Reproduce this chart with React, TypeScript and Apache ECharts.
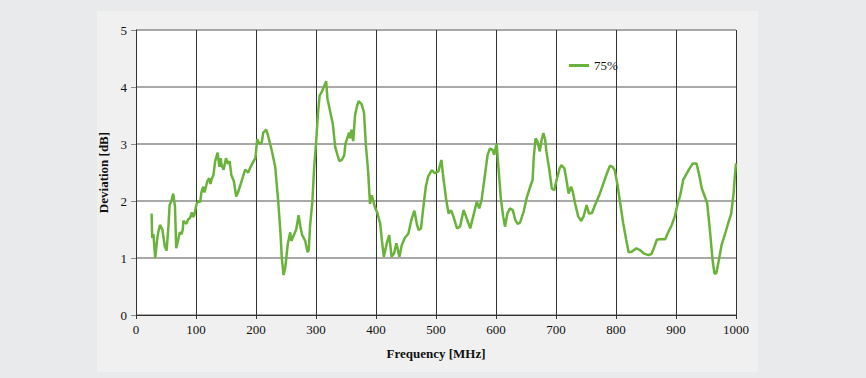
import React, { useEffect, useRef } from "react";
import * as echarts from "echarts";

const freqs = [26,27,29,32,35,37,40,44,48,51,54,56,59,62,65,67,71,73,76,78,79,84,87,90,93,95,97,101,104,107,109,112,114,119,122,124,126,129,132,136,139,141,143,146,150,153,156,159,163,167,170,173,176,179,182,187,191,196,199,202,205,208,210,212,217,220,226,232,237,241,243,246,249,253,257,259,263,267,271,274,277,282,286,288,290,294,297,300,303,306,309,313,317,319,323,328,332,336,339,343,347,349,352,355,357,359,362,365,368,371,376,380,383,387,390,393,398,402,407,410,413,418,422,426,430,434,439,443,448,454,459,464,468,471,475,479,483,487,493,498,504,509,512,517,521,525,529,535,540,546,551,557,562,568,572,576,582,586,590,594,597,601,604,608,612,615,619,623,628,632,636,640,646,651,657,661,663,666,669,673,676,679,682,684,689,693,697,701,706,709,714,717,721,725,728,732,737,742,746,751,755,760,765,772,779,784,790,794,798,803,807,812,817,821,826,834,840,846,854,859,863,868,873,882,886,893,898,903,907,912,921,928,934,938,943,948,952,957,961,964,967,971,976,982,987,992,996,998,1000];
const values75 = [1.78,1.35,1.42,1.0,1.3,1.45,1.58,1.5,1.2,1.13,1.55,1.93,2.0,2.13,1.9,1.17,1.35,1.45,1.42,1.5,1.65,1.6,1.68,1.7,1.8,1.72,1.75,1.95,2.0,1.98,2.15,2.25,2.15,2.35,2.4,2.3,2.38,2.45,2.7,2.85,2.6,2.75,2.62,2.55,2.75,2.65,2.7,2.45,2.35,2.08,2.15,2.25,2.35,2.45,2.55,2.5,2.6,2.7,2.75,3.08,3.02,3.0,3.05,3.2,3.25,3.15,2.9,2.6,2.0,1.4,1.0,0.7,0.85,1.25,1.45,1.3,1.4,1.5,1.75,1.55,1.4,1.3,1.1,1.15,1.55,2.0,2.6,3.0,3.5,3.85,3.9,4.0,4.1,3.8,3.6,3.35,2.95,2.8,2.7,2.72,2.8,3.0,3.1,3.2,3.1,3.25,3.05,3.5,3.65,3.75,3.7,3.55,3.0,2.5,1.95,2.1,1.9,1.8,1.6,1.3,1.02,1.26,1.4,1.02,1.08,1.26,1.02,1.23,1.35,1.43,1.67,1.83,1.6,1.49,1.52,1.9,2.25,2.43,2.54,2.49,2.52,2.72,2.43,2.02,1.78,1.84,1.73,1.52,1.55,1.84,1.7,1.52,1.73,1.99,1.87,2.02,2.49,2.81,2.92,2.9,2.81,3.01,2.6,2.05,1.73,1.55,1.78,1.87,1.84,1.67,1.6,1.62,1.81,2.05,2.25,2.37,2.78,3.1,3.05,2.87,3.07,3.19,3.07,2.87,2.54,2.22,2.19,2.37,2.57,2.63,2.57,2.4,2.13,2.25,2.16,1.95,1.73,1.65,1.73,1.93,1.78,1.79,1.93,2.1,2.31,2.46,2.62,2.6,2.54,2.25,1.96,1.61,1.32,1.1,1.11,1.17,1.14,1.08,1.05,1.07,1.17,1.32,1.33,1.33,1.43,1.58,1.73,1.96,2.1,2.37,2.54,2.66,2.66,2.49,2.22,2.08,1.96,1.43,0.96,0.73,0.73,0.94,1.23,1.43,1.61,1.78,2.13,2.43,2.66];
const seriesName = "75%";
const xTitle = "Frequency [MHz]";
const yTitle = "Deviation [dB]";

const FONT = "Liberation Serif";
const GREEN = "#69b33a";

export default function App() {
  const ref = useRef<HTMLDivElement>(null);
  useEffect(() => {
    if (!ref.current) return;
    const chart = echarts.init(ref.current, undefined, { renderer: "svg" });
    const data = freqs.map((f, i) => [f, values75[i]]);
    const labelStyle = { fontFamily: FONT, fontSize: 13, color: "#111" };
    chart.setOption({
      animation: false,
      backgroundColor: "#e9eaec",
      textStyle: { fontFamily: FONT },
      graphic: [
        {
          type: "rect",
          z: -10,
          shape: { x: 97, y: 11, width: 661, height: 361 },
          style: { fill: "#f0f0f0" },
          silent: true,
        },
      ],
      grid: {
        left: 136,
        top: 30,
        width: 600,
        height: 285,
        show: true,
        backgroundColor: "#ffffff",
        borderWidth: 0,
      },
      legend: {
        left: 564,
        top: 54,
        itemWidth: 20,
        itemHeight: 3,
        itemGap: 4,
        data: [{ name: seriesName, icon: "rect" }],
        textStyle: { fontFamily: FONT, fontSize: 13, color: "#111" },
      },
      xAxis: {
        type: "value",
        min: 0,
        max: 1000,
        interval: 100,
        name: xTitle,
        nameLocation: "middle",
        nameGap: 32,
        nameTextStyle: { fontFamily: FONT, fontSize: 13, fontWeight: "bold", color: "#111" },
        axisLine: { show: true, lineStyle: { color: "#333", width: 1 } },
        axisTick: { show: true, length: 4, lineStyle: { color: "#333" } },
        axisLabel: { ...labelStyle, margin: 8, formatter: (v: number) => String(v) },
        splitLine: { show: true, lineStyle: { color: "#333", width: 1 } },
      },
      yAxis: {
        type: "value",
        min: 0,
        max: 5,
        interval: 1,
        name: yTitle,
        nameLocation: "middle",
        nameGap: 22,
        nameTextStyle: { fontFamily: FONT, fontSize: 13, fontWeight: "bold", color: "#111" },
        axisLine: { show: true, lineStyle: { color: "#333", width: 1 } },
        axisTick: { show: true, length: 5, lineStyle: { color: "#8c8c8c" } },
        axisLabel: { ...labelStyle, margin: 9, formatter: (v: number) => String(v) },
        splitLine: { show: true, lineStyle: { color: "#8c8c8c", width: 1.5 } },
      },
      series: [
        {
          name: seriesName,
          type: "line",
          data,
          showSymbol: false,
          symbol: "none",
          lineStyle: { color: GREEN, width: 2.5 },
          itemStyle: { color: GREEN },
        },
      ],
    });
    return () => chart.dispose();
  }, []);
  return (
    <div style={{ position: "absolute", left: 0, top: 0, width: 866, height: 378 }}>
      <div ref={ref} style={{ width: 866, height: 378 }} />
    </div>
  );
}
